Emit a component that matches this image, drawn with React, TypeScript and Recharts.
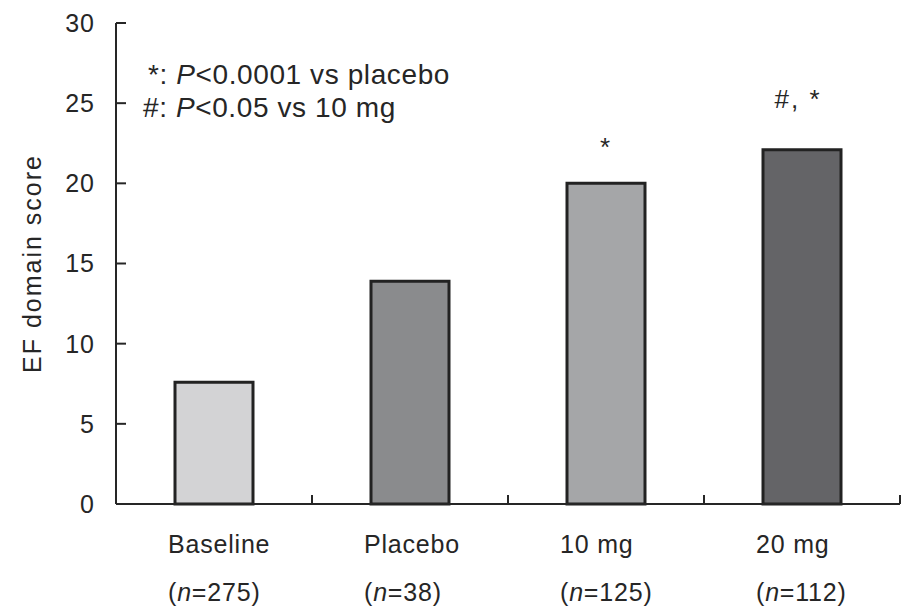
import { Bar, BarChart, Cell, LabelList, ReferenceLine, XAxis, YAxis } from "recharts";

const groups = ["Baseline", "Placebo", "10 mg", "20 mg"];
const sampleSizes = [275, 38, 125, 112];
const efScores = [7.6, 13.9, 20.0, 22.1];
const significance = ["", "", "*", "#, *"];
const fills = ["#d3d3d5", "#8a8b8d", "#a5a6a8", "#646467"];
const yTicks = [0, 5, 10, 15, 20, 25, 30];

const data = groups.map((g, i) => ({ group: g, n: sampleSizes[i], score: efScores[i], sig: significance[i] }));

const FONT = "'Liberation Sans', Arial, sans-serif";
const INK = "#262626";

// group name with its sample size underneath, left-aligned a bit before the band centre
function GroupTick(props: any) {
  const { x, y, payload } = props;
  const n = data[payload.index]?.n;
  const left = x - 46;
  return (
    <g fontSize={25} fill={INK} fontFamily={FONT} letterSpacing={0.8}>
      <text x={left} y={y + 41}>
        {payload.value}
      </text>
      <text x={left} y={y + 89}>
        (<tspan fontStyle="italic">n</tspan>={n})
      </text>
    </g>
  );
}

// short upward tick at each group boundary along the x axis
function EdgeTick(props: any) {
  const { x1, y1, y2 } = props;
  const bottom = Math.max(y1, y2);
  return <line x1={x1} x2={x1} y1={bottom - 9} y2={bottom} stroke={INK} strokeWidth={2} />;
}

function SigLabel(props: any) {
  const { x, y, width, value } = props;
  if (!value) return null;
  const lift = value.length > 1 ? 42 : 27;
  return (
    <text
      x={x + width / 2 - (value.length > 1 ? 4 : 0)}
      y={y - lift}
      textAnchor="middle"
      fontSize={26}
      letterSpacing={2}
      fill={INK}
      fontFamily={FONT}
    >
      {value}
    </text>
  );
}

export default function App() {
  return (
    <div style={{ position: "absolute", left: 0, top: 0, width: 902, height: 610, background: "#fff" }}>
      <BarChart width={902} height={610} data={data} margin={{ top: 23, right: 2, bottom: 0, left: 0 }}>
        <XAxis
          dataKey="group"
          height={106}
          axisLine={{ stroke: INK, strokeWidth: 2 }}
          tickLine={false}
          tick={<GroupTick />}
          interval={0}
        />
        <YAxis
          width={116}
          domain={[0, 30]}
          ticks={yTicks}
          interval={0}
          axisLine={{ stroke: INK, strokeWidth: 2 }}
          tickLine={{ stroke: INK, strokeWidth: 2 }}
          tickSize={-10}
          tickMargin={31}
          tick={{ fontSize: 25, fill: INK, fontFamily: FONT, letterSpacing: 1 }}
          label={{
            value: "EF domain score",
            angle: -90,
            position: "insideLeft",
            offset: 32,
            style: { textAnchor: "middle", fontSize: 25, fill: INK, fontFamily: FONT, letterSpacing: 2 },
          }}
        />
        {groups.map((g) => (
          <ReferenceLine key={g} x={g} position="end" shape={<EdgeTick />} />
        ))}
        <Bar dataKey="score" barSize={78} stroke="#222" strokeWidth={3} isAnimationActive={false}>
          {data.map((_, i) => (
            <Cell key={i} fill={fills[i]} />
          ))}
          <LabelList dataKey="sig" content={<SigLabel />} />
        </Bar>
        <g fontSize={28} fill={INK} fontFamily={FONT} letterSpacing={0.6}>
          <text x={148} y={84}>
            *: <tspan fontStyle="italic">P</tspan>&lt;0.0001 vs placebo
          </text>
          <text x={143} y={117}>
            #: <tspan fontStyle="italic">P</tspan>&lt;0.05 vs 10 mg
          </text>
        </g>
      </BarChart>
    </div>
  );
}
